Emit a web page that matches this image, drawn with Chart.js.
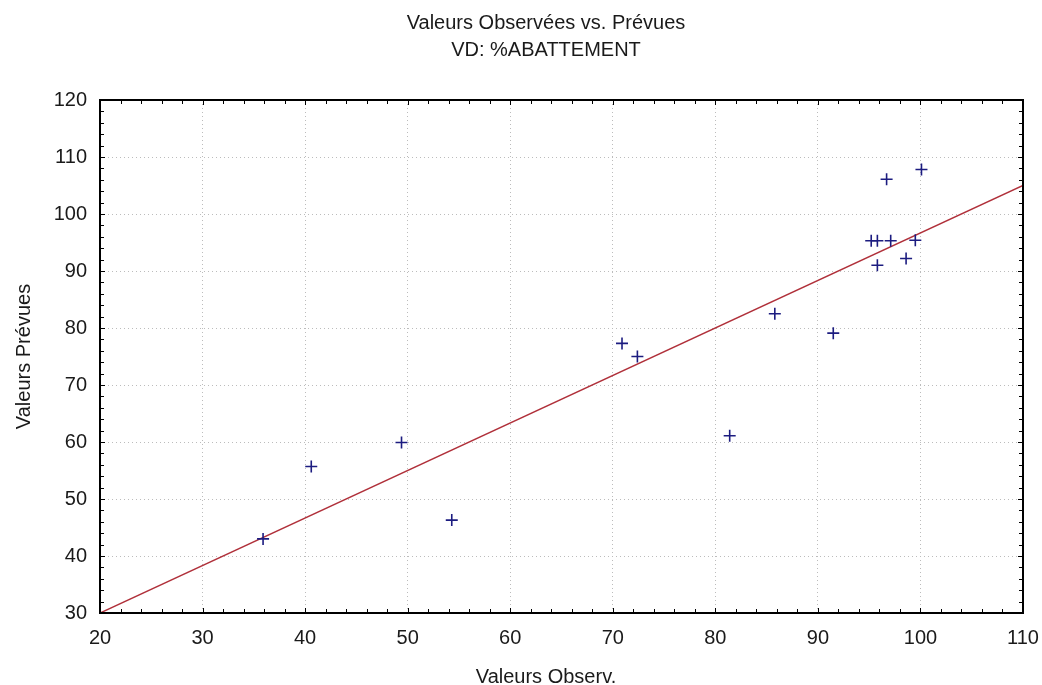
<!DOCTYPE html>
<html>
<head>
<meta charset="utf-8">
<script src="https://cdn.jsdelivr.net/npm/chart.js@4.4.1/dist/chart.umd.min.js"></script>
<style>
  html, body { margin: 0; padding: 0; background: #fff; }
  #wrap { width: 1042px; height: 685px; }
</style>
</head>
<body>
<div id="wrap"><canvas id="scatter"></canvas></div>
<script>
// valeurs
const observed  = [35.9, 40.6, 49.4, 54.3, 70.9, 72.4, 81.4, 85.8, 91.5, 95.2, 95.8, 95.8, 96.7, 97.1, 98.6, 99.5, 100.1];
const predicted = [43.0, 55.7, 59.9, 46.3, 77.3, 75.0, 61.1, 82.5, 79.1, 95.3, 95.3, 91.0, 106.1, 95.3, 92.2, 95.4, 107.8];

// droite de régression
const fitX = [20, 110];
const fitY = [30, 105];

const xTicks = [20, 30, 40, 50, 60, 70, 80, 90, 100, 110];
const yTicks = [30, 40, 50, 60, 70, 80, 90, 100, 110, 120];

const titleText = 'Valeurs Observées vs. Prévues';
const subtitleText = 'VD: %ABATTEMENT';
const xTitle = 'Valeurs Observ.';
const yTitle = 'Valeurs Prévues';

const FONT = "'Liberation Sans', Arial, sans-serif";
const TXT = '#1a1a1a';

// cadre, petites graduations et textes centrés comme l'original
const framePlugin = {
    id: 'frame',
    afterDraw(chart) {
        const {ctx, chartArea: a} = chart;
        const xs = chart.scales.x, ys = chart.scales.y;
        ctx.save();
        ctx.strokeStyle = '#000';
        ctx.lineWidth = 1;
        ctx.beginPath();
        for (let v = 20; v <= 110; v += 2) {
            const px = Math.round(xs.getPixelForValue(v)) + 0.5;
            const len = v % 10 === 0 ? 5 : 4;
            ctx.moveTo(px, a.bottom); ctx.lineTo(px, a.bottom - len);
            ctx.moveTo(px, a.top); ctx.lineTo(px, a.top + len);
        }
        for (let v = 30; v <= 120; v += 2) {
            const py = Math.round(ys.getPixelForValue(v)) + 0.5;
            const len = v % 10 === 0 ? 5 : 4;
            ctx.moveTo(a.left, py); ctx.lineTo(a.left + len, py);
            ctx.moveTo(a.right, py); ctx.lineTo(a.right - len, py);
        }
        ctx.stroke();
        ctx.lineWidth = 2;
        ctx.strokeRect(a.left, a.top, a.right - a.left, a.bottom - a.top);

        ctx.fillStyle = TXT;
        ctx.font = '20px ' + FONT;
        ctx.textAlign = 'center';
        ctx.textBaseline = 'alphabetic';
        ctx.fillText(titleText, 546, 29);
        ctx.fillText(subtitleText, 546, 56);
        ctx.fillText(xTitle, 546, 683);
        ctx.restore();
    }
};

new Chart(document.getElementById('scatter'), {
    type: 'scatter',
    data: {
        datasets: [{
            label: 'Observées vs. Prévues',
            data: observed.map((v, i) => ({x: v, y: predicted[i]})),
            pointStyle: 'cross',
            pointRadius: 6,
            pointHoverRadius: 6,
            borderColor: '#1c1c80',
            backgroundColor: '#1c1c80',
            borderWidth: 1.6,
            order: 1
        }, {
            label: 'Régression',
            type: 'line',
            data: fitX.map((v, i) => ({x: v, y: fitY[i]})),
            borderColor: '#b0303a',
            borderWidth: 1.5,
            pointRadius: 0,
            fill: false,
            order: 2
        }]
    },
    options: {
        responsive: true,
        maintainAspectRatio: false,
        animation: false,
        layout: {padding: {top: 100, right: 19, bottom: 0, left: 0}},
        scales: {
            x: {
                type: 'linear',
                min: 20, max: 110,
                afterBuildTicks: s => { s.ticks = xTicks.map(v => ({value: v})); },
                afterFit: s => { s.height = 72; s.paddingLeft = 0; s.paddingRight = 0; },
                grid: {color: '#bcbcbc', drawTicks: false},
                border: {display: false, dash: [1, 3]},
                ticks: {color: TXT, font: {family: FONT, size: 20}, padding: 13, maxRotation: 0}
            },
            y: {
                type: 'linear',
                min: 30, max: 120,
                afterBuildTicks: s => { s.ticks = yTicks.map(v => ({value: v})); },
                afterFit: s => { s.width = 100; s.paddingTop = 0; s.paddingBottom = 0; },
                grid: {color: '#bcbcbc', drawTicks: false},
                border: {display: false, dash: [1, 3]},
                ticks: {color: TXT, font: {family: FONT, size: 20}, padding: 13},
                title: {display: true, text: yTitle, color: TXT, font: {family: FONT, size: 20}, padding: {top: 12}}
            }
        },
        plugins: {
            legend: {display: false},
            tooltip: {enabled: false}
        }
    },
    plugins: [framePlugin]
});
</script>
</body>
</html>
